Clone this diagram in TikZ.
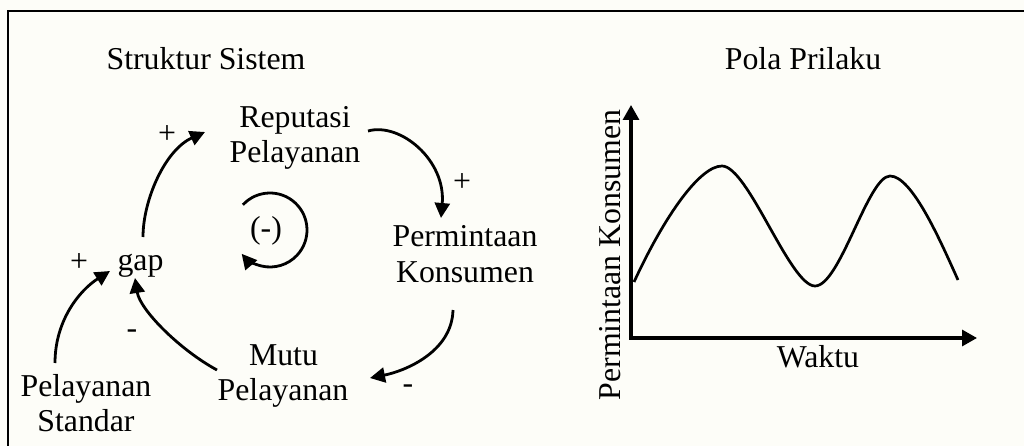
\documentclass[tikz,border=0pt]{standalone}
\usepackage{fontspec}
\setmainfont{Liberation Serif}
\usetikzlibrary{arrows.meta,calc}
\definecolor{bg}{RGB}{253,253,248}
\begin{document}
\begin{tikzpicture}[x=1pt,y=-1pt,
  lbl/.style={anchor=base,inner sep=0pt,font=\fontsize{31.8}{35}\selectfont},
  link/.style={line width=2.8pt,-{Triangle[length=15pt,width=15pt]}},
  axis/.style={line width=3.2pt,{Triangle[length=15pt,width=16pt]}-{Triangle[length=15pt,width=16pt]}},
  curve/.style={line width=2.7pt,line join=round}]
\fill[bg] (0,0) rectangle (1024,446);
\useasboundingbox (0,0) rectangle (1024,446);
\begin{scope}
\clip (0,0) rectangle (1024,446);
\draw[line width=2.2pt] (1040,11) -- (8,11) -- (8,460);
\end{scope}
% titles
\node[lbl] (t1) at (206,70) {Struktur Sistem};
\node[lbl] (t2) at (803,70) {Pola Prilaku};
% causal loop nodes
\node[lbl] (rep1) at (295,128) {Reputasi};
\node[lbl] (rep2) at (295,163) {Pelayanan};
\node[lbl] (perm1) at (465,247) {Permintaan};
\node[lbl] (perm2) at (465,282) {Konsumen};
\node[lbl] (mutu1) at (283.5,365) {Mutu};
\node[lbl] (mutu2) at (283,400) {Pelayanan};
\node[lbl] (gap) at (140.5,270) {gap};
\node[lbl] (std1) at (86,396) {Pelayanan};
\node[lbl] (std2) at (86,431) {Standar};
\node[lbl] (loop) at (266,238) {(-)};
% polarity signs
\node[lbl] (s1) at (167,144) {+};
\node[lbl] (s2) at (462,192) {+};
\node[lbl] (s3) at (408,393) {-};
\node[lbl] (s4) at (132,338) {-};
\node[lbl] (s5) at (79,271) {+};
% connectors
\draw[link] ($(gap.base)+(2.5,-33)$) .. controls +(0,-37) and +(-40,18) .. ($(rep1.base)+(-90,4)$);
\draw[link] ($(rep1.base)+(73,3)$) .. controls +(32,-9) and +(5,-58) .. ($(perm1.base)+(-24,-29)$);
\draw[link] ($(perm2.base)+(-12,28)$) .. controls +(-1,42) and +(35,-7) .. ($(mutu2.base)+(87,-22)$);
\draw[link] ($(mutu2.base)+(-66,-30)$) .. controls +(-37,-20) and +(5,32) .. ($(gap.base)+(-5.5,8)$);
\draw[link] ($(std1.base)+(-31,-33)$) .. controls +(0,-43) and +(-30,19) .. ($(gap.base)+(-30.5,1)$);
% loop arc
\draw[link] ($(loop.base)+(4,-8)+(-137:37)$) arc[start angle=-137,end angle=140,radius=37];
% behaviour graph
\coordinate (O) at (631,338);
\coordinate (ytip) at (631,105);
\coordinate (xtip) at (977,338);
\draw[axis] (ytip) -- (O) -- (xtip);
\node[lbl,rotate=90] (ylab) at (620,255) {Permintaan Konsumen};
\node[lbl] (xlab) at (818,367) {Waktu};
\draw[curve] (634,282) .. controls (665,215) and (700,166) .. (722,166)
  .. controls (748,166) and (790,286) .. (815,286)
  .. controls (840,286) and (868,176) .. (890,176)
  .. controls (912,176) and (940,240) .. (958,280);
\end{tikzpicture}
\end{document}
